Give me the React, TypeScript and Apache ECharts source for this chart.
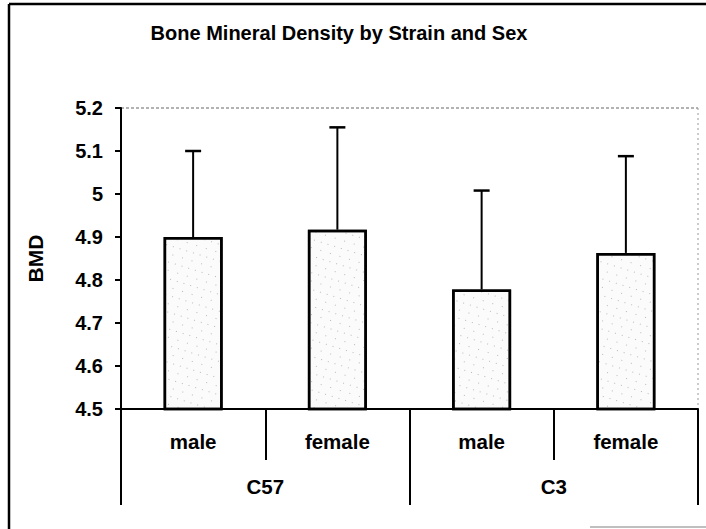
import React, { useEffect, useRef } from "react";
import * as echarts from "echarts";

const sexCategories = ["male", "female", "male", "female"];
const strainCategories = ["C57", "C3"];
const bmdMeans = [4.9, 4.917, 4.778, 4.863];
const bmdErrors = [0.2, 0.238, 0.23, 0.225];
const chartTitle = "Bone Mineral Density by Strain and Sex";
const yAxisName = "BMD";

const FONT = "'Liberation Sans', Arial, sans-serif";

export default function App() {
  const ref = useRef<HTMLDivElement>(null);
  useEffect(() => {
    if (!ref.current) return;
    const chart = echarts.init(ref.current, undefined, { renderer: "svg" });
    const errData = bmdMeans.map((m, i) => [i, m, bmdErrors[i]]);
    chart.setOption({
      animation: false,
      backgroundColor: "#ffffff",
      textStyle: { fontFamily: FONT },
      grid: { left: 121, right: 8, top: 108, bottom: 120, containLabel: false },
      graphic: [
        {
          type: "text",
          x: 339,
          y: 33,
          style: {
            text: chartTitle,
            fontFamily: FONT,
            fontWeight: "bold",
            fontSize: 20,
            fill: "#000",
            textAlign: "center",
            textVerticalAlign: "middle",
          },
        },
        { type: "line", shape: { x1: 9, y1: 4, x2: 9, y2: 529 }, style: { stroke: "#000", lineWidth: 2.5 } },
        { type: "line", shape: { x1: 9, y1: 4, x2: 706, y2: 4 }, style: { stroke: "#000", lineWidth: 2.5 } },
        { type: "line", shape: { x1: 590, y1: 527, x2: 706, y2: 527 }, style: { stroke: "#aaa", lineWidth: 1.5 } },
        { type: "line", shape: { x1: 121, y1: 108, x2: 698, y2: 108 }, style: { stroke: "#666", lineWidth: 1, lineDash: [3, 2] } },
        { type: "line", shape: { x1: 698, y1: 108, x2: 698, y2: 409 }, style: { stroke: "#999", lineWidth: 1, lineDash: [2, 3] } },
      ],
      xAxis: [
        {
          type: "category",
          data: sexCategories,
          position: "bottom",
          boundaryGap: true,
          axisLine: { show: true, lineStyle: { color: "#000", width: 2 } },
          axisTick: { show: true, interval: 0, length: 51, lineStyle: { color: "#000", width: 2 } },
          axisLabel: { interval: 0, margin: 22, color: "#000", fontWeight: "bold", fontSize: 20.5, fontFamily: FONT },
          splitLine: { show: false },
        },
        {
          type: "category",
          data: strainCategories,
          position: "bottom",
          boundaryGap: true,
          axisLine: { show: false },
          axisTick: { show: true, interval: 0, length: 96, lineStyle: { color: "#000", width: 2 } },
          axisLabel: { interval: 0, margin: 67, color: "#000", fontWeight: "bold", fontSize: 20.5, fontFamily: FONT },
          splitLine: { show: false },
        },
      ],
      yAxis: {
        type: "value",
        min: 4.5,
        max: 5.2,
        interval: 0.1,
        name: yAxisName,
        nameLocation: "middle",
        nameRotate: 90,
        nameGap: 75,
        nameTextStyle: { color: "#000", fontWeight: "bold", fontSize: 21, fontFamily: FONT },
        axisLine: { show: true, lineStyle: { color: "#000", width: 2 } },
        axisTick: { show: true, length: 6, lineStyle: { color: "#000", width: 2 } },
        axisLabel: {
          margin: 18,
          color: "#000",
          fontWeight: "bold",
          fontSize: 20,
          fontFamily: FONT,
          formatter: (v: number) => String(Math.round(v * 10) / 10),
        },
        splitLine: { show: false },
      },
      series: [
        {
          type: "bar",
          xAxisIndex: 0,
          data: bmdMeans,
          barWidth: 59,
          itemStyle: {
            color: "#fbfbfb",
            borderColor: "#000",
            borderWidth: 2.5,
            decal: {
              symbol: "rect",
              symbolSize: 1,
              color: "rgba(60,60,60,0.35)",
              dashArrayX: [[1, 6], [1, 9]],
              dashArrayY: [1, 7],
              rotation: 0.3,
            },
          },
        },
        {
          type: "custom",
          xAxisIndex: 0,
          data: errData,
          z: 3,
          renderItem: (params: any, api: any) => {
            const base = api.coord([api.value(0), api.value(1)]);
            const top = api.coord([api.value(0), api.value(1) + api.value(2)]);
            const half = 8;
            return {
              type: "group",
              children: [
                { type: "line", shape: { x1: base[0], y1: base[1], x2: top[0], y2: top[1] }, style: { stroke: "#000", lineWidth: 2 } },
                { type: "line", shape: { x1: top[0] - half, y1: top[1], x2: top[0] + half, y2: top[1] }, style: { stroke: "#000", lineWidth: 2.5 } },
              ],
            };
          },
        },
      ],
    });
    return () => chart.dispose();
  }, []);
  return <div ref={ref} style={{ position: "absolute", left: 0, top: 0, width: 706, height: 529 }} />;
}
